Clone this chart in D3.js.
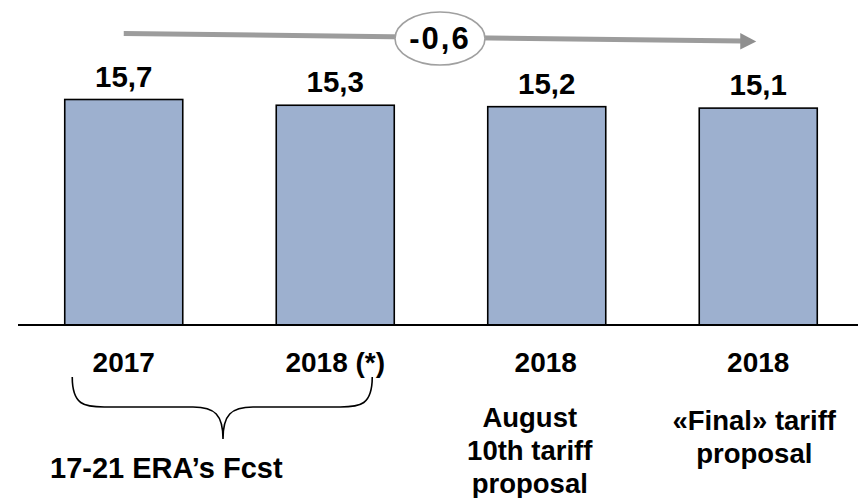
<!DOCTYPE html>
<html>
<head>
<meta charset="utf-8">
<script src="https://cdn.jsdelivr.net/npm/d3@7"></script>
<style>
  html, body { margin: 0; padding: 0; background: #fff; }
  svg { display: block; }
  text { font-family: "Liberation Sans", Arial, Helvetica, sans-serif; font-weight: bold; fill: #000; }
</style>
</head>
<body>
<svg id="chart" width="858" height="498"></svg>
<script>
// ---- data ----
const categories = ["2017", "2018 (*)", "2018", "2018"];
const values = [15.7, 15.3, 15.2, 15.1];
const subLabels = [[], [], ["August", "10th tariff", "proposal"], ["«Final» tariff", "proposal"]];
const groupLabel = "17-21 ERA’s Fcst";
const deltaLabel = "-0,6";

// ---- setup ----
const svg = d3.select("#chart");
const W = 858, H = 498;
const baseY = 325;

const x = d3.scaleBand()
  .domain(d3.range(categories.length))
  .range([18, 864])
  .paddingInner(0.442)
  .paddingOuter(0.221);

const y = d3.scaleLinear().domain([0, 15.7]).range([baseY, 99.5]);

const fmt = d3.formatLocale({ decimal: ",", thousands: ".", grouping: [3], currency: ["", "€"] }).format(".1f");
const cx = i => x(i) + x.bandwidth() / 2;

// bars
svg.append("g").selectAll("rect")
  .data(values)
  .join("rect")
  .attr("x", (d, i) => x(i))
  .attr("y", d => y(d))
  .attr("width", x.bandwidth())
  .attr("height", d => baseY - y(d))
  .attr("fill", "#9DB0CF")
  .attr("stroke", "#000")
  .attr("stroke-width", 1.6);

// baseline axis
const axis = d3.axisBottom(x).tickSize(0).tickFormat("");
const ax = svg.append("g").attr("transform", `translate(0,${baseY})`).call(axis);
ax.select(".domain").attr("d", `M18,0H${W}`).attr("stroke", "#000").attr("stroke-width", 2);

// value labels
svg.append("g").selectAll("text")
  .data(values)
  .join("text")
  .attr("x", (d, i) => cx(i))
  .attr("y", d => y(d) - 13)
  .attr("text-anchor", "middle")
  .attr("font-size", 29.5)
  .text(d => fmt(d));

// category labels
svg.append("g").selectAll("text")
  .data(categories)
  .join("text")
  .attr("x", (d, i) => cx(i) - (i === 2 ? 1 : 0))
  .attr("y", 372)
  .attr("text-anchor", "middle")
  .attr("font-size", 28)
  .text(d => d);

// sub labels
const subOffsets = [0, 0, -17, -4];
const subStart = [0, 0, 426.5, 430];
subLabels.forEach((lines, i) => {
  lines.forEach((t, j) => {
    svg.append("text")
      .attr("x", cx(i) + subOffsets[i])
      .attr("y", subStart[i] + j * 33)
      .attr("text-anchor", "middle")
      .attr("font-size", 27.5)
      .text(t);
  });
});

// brace under first two categories
const bl = cx(0) - 51.5, br = cx(1) + 37, bm = 223;
const by0 = 377, by1 = 407, by2 = 439;
svg.append("path")
  .attr("d",
    `M${bl},${by0} C${bl},${by1 - 2} ${bl + 12},${by1} ${bl + 32},${by1}` +
    ` L${bm - 30},${by1} C${bm - 8},${by1} ${bm},${by1 + 8} ${bm},${by2}` +
    ` C${bm},${by1 + 8} ${bm + 8},${by1} ${bm + 30},${by1}` +
    ` L${br - 32},${by1} C${br - 12},${by1} ${br},${by1 - 2} ${br},${by0}`)
  .attr("fill", "none")
  .attr("stroke", "#000")
  .attr("stroke-width", 1.6);

svg.append("text")
  .attr("x", 50)
  .attr("y", 478)
  .attr("font-size", 29)
  .text(groupLabel);

// delta arrow
const ax0 = cx(0), ax1 = cx(3) - 16, tip = cx(3) - 2;
svg.append("line")
  .attr("x1", ax0).attr("y1", 33.5)
  .attr("x2", ax1).attr("y2", 41)
  .attr("stroke", "#9c9c9c")
  .attr("stroke-width", 5);
svg.append("path")
  .attr("d", `M${ax1 - 2},${33} L${tip},${41.5} L${ax1 - 2},${49.5} Z`)
  .attr("fill", "#8f8f8f");

svg.append("ellipse")
  .attr("cx", 440).attr("cy", 38.5)
  .attr("rx", 45).attr("ry", 26.5)
  .attr("fill", "#fff")
  .attr("stroke", "#a0a0a0")
  .attr("stroke-width", 1.6);
svg.append("text")
  .attr("x", 440).attr("y", 49)
  .attr("text-anchor", "middle")
  .attr("font-size", 31)
  .attr("letter-spacing", 2)
  .text(deltaLabel);
</script>
</body>
</html>
